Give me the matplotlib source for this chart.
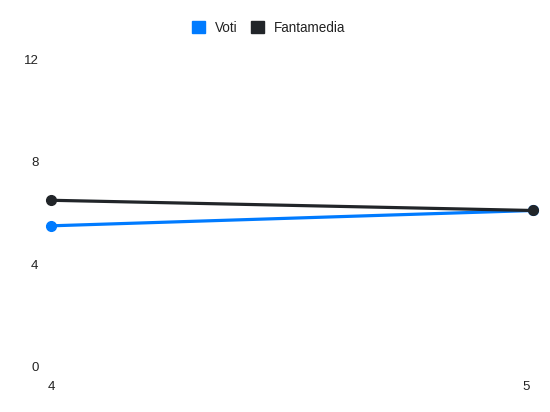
import matplotlib
matplotlib.use("Agg")
import matplotlib.pyplot as plt
from matplotlib.patches import Patch
from matplotlib.transforms import ScaledTranslation

# data
giornate = [4, 5]
voti = [5.5, 6.1]
fantamedia = [6.5, 6.1]
y_ticks = [0, 4, 8, 12]

BLUE = "#007bff"
DARK = "#212529"

plt.rcParams["font.family"] = ["Liberation Sans", "DejaVu Sans"]

fig = plt.figure(figsize=(5.5, 4.12), dpi=100)
ax = fig.add_axes([51 / 550, 1 - 366.4 / 412, (532.7 - 51) / 550, (366.4 - 59.7) / 412])

ax.plot(giornate, voti, color=BLUE, lw=2.3, marker="o", ms=7,
        solid_capstyle="round", clip_on=False, zorder=3)
ax.plot(giornate, fantamedia, color=DARK, lw=2.3, marker="o", ms=7,
        solid_capstyle="round", clip_on=False, zorder=4)

ax.set_xlim(giornate[0], giornate[-1])
ax.set_ylim(y_ticks[0], y_ticks[-1])
ax.set_xticks(giornate)
ax.set_xticklabels([str(g) for g in giornate])
ax.set_yticks(y_ticks)
ax.tick_params(axis="y", length=0, pad=9, labelsize=9.5, colors="#222222")
ax.tick_params(axis="x", length=0, pad=10.5, labelsize=9.5, colors="#222222")
for s in ax.spines.values():
    s.set_visible(False)

# last x label is pulled inside the canvas, like the original
last = ax.get_xticklabels()[-1]
last.set_transform(last.get_transform() + ScaledTranslation(-7 / 100, 0, fig.dpi_scale_trans))

handles = [Patch(facecolor=BLUE, edgecolor=BLUE, label="Voti"),
           Patch(facecolor=DARK, edgecolor=DARK, label="Fantamedia")]
fig.legend(handles=handles, loc="center", bbox_to_anchor=(268.5 / 550, 1 - 27.5 / 412),
           ncol=2, frameon=False, fontsize=9.75, handlelength=1.0, handleheight=1.0,
           handletextpad=0.7, columnspacing=1.0, labelcolor="#222222")

fig.savefig("out.png", dpi=100)
